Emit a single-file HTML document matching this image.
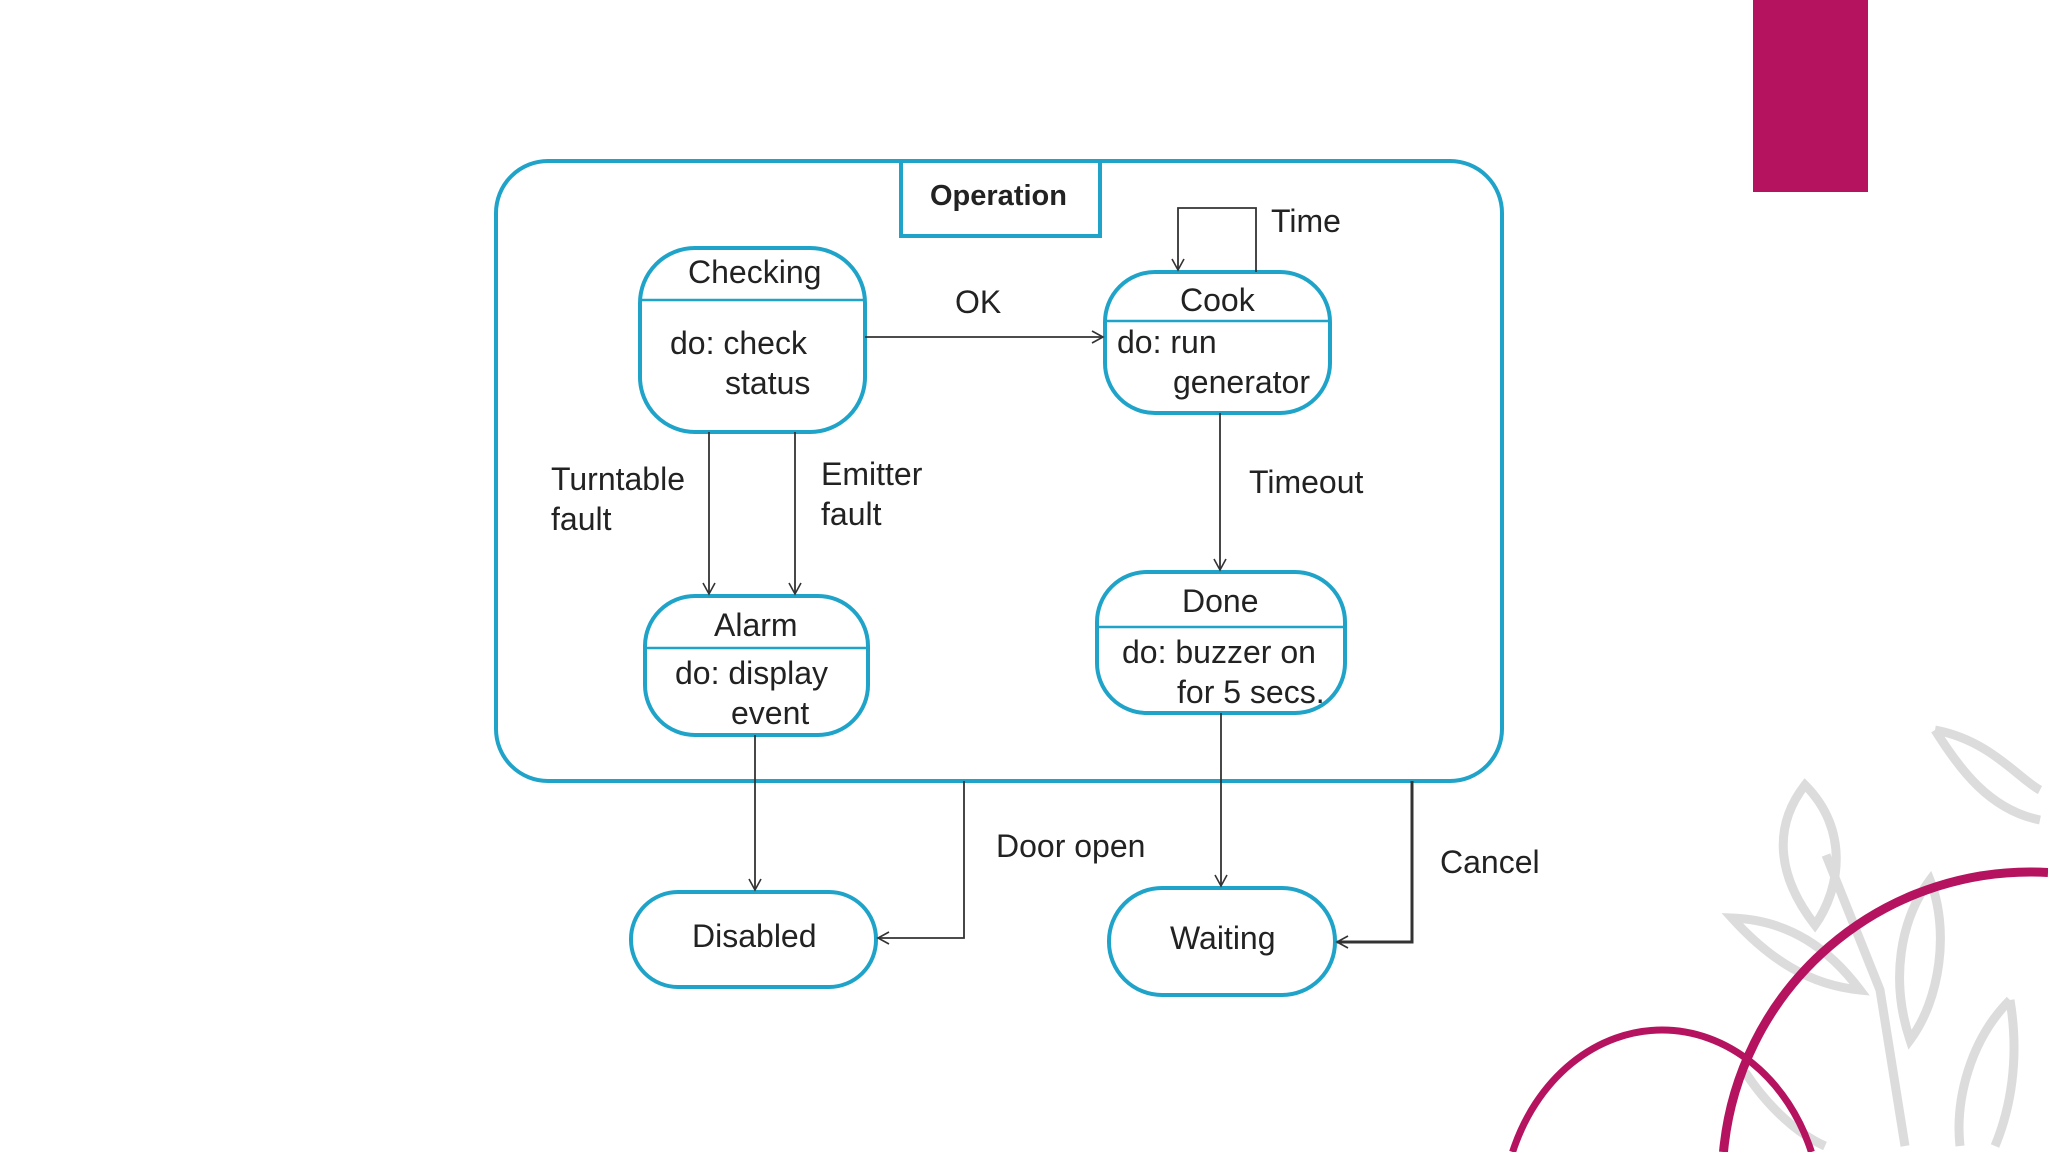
<!DOCTYPE html>
<html><head><meta charset="utf-8"><style>
html,body{margin:0;padding:0;background:#fff;width:2048px;height:1152px;overflow:hidden}
svg{display:block}
svg text{font-family:"Liberation Sans Narrow","Liberation Sans",sans-serif;fill:#222;font-size:32px}
</style></head><body>
<svg width="2048" height="1152" viewBox="0 0 2048 1152" xmlns="http://www.w3.org/2000/svg">
<defs>
<marker id="a" markerWidth="14" markerHeight="14" refX="12" refY="7" orient="auto" markerUnits="userSpaceOnUse">
<path d="M1,1 L12,7 L1,13" fill="none" stroke="#333" stroke-width="1.6"/></marker>
</defs>
<rect x="1753" y="0" width="115" height="192" fill="#b5135f"/>
<g fill="none" stroke="#dcdcdc" stroke-width="9">
<path d="M1805,785 C1770,830 1780,880 1815,925 C1840,890 1850,830 1805,785 Z"/>
<path d="M1732,918 C1770,960 1810,985 1860,990 C1830,950 1790,920 1732,918 Z"/>
<path d="M1935,730 C1960,770 1990,810 2040,820 M1935,730 C1990,740 2020,780 2040,790"/>
<path d="M1826,855 L1880,990 L1905,1146"/>
<path d="M1930,880 C1900,920 1890,980 1910,1040 C1940,1000 1950,930 1930,880 Z"/>
<path d="M2010,1000 C1970,1040 1955,1100 1960,1146 M2010,1000 C2020,1060 2010,1110 1995,1146"/>
<path d="M1745,1072 C1770,1110 1800,1135 1825,1146"/>
</g>
<path d="M1723.5,1152 A308,308 0 0 1 2048,872.5" fill="none" stroke="#b5135f" stroke-width="9"/>
<path d="M1512.6,1152 A160,190 0 0 1 1811.4,1152" fill="none" stroke="#b5135f" stroke-width="7"/>

<g fill="none" stroke="#1fa3c8" stroke-width="4">
<rect x="496" y="161" width="1006" height="620" rx="52"/>
<rect x="901" y="161" width="199" height="75" fill="#fff"/>
<rect x="640" y="248" width="225" height="184" rx="55"/>
<line x1="640" y1="300" x2="865" y2="300" stroke-width="2.5"/>
<rect x="1105" y="272" width="225" height="141" rx="50"/>
<line x1="1105" y1="321" x2="1330" y2="321" stroke-width="2.5"/>
<rect x="645" y="596" width="223" height="139" rx="50"/>
<line x1="645" y1="648" x2="868" y2="648" stroke-width="2.5"/>
<rect x="1097" y="572" width="248" height="141" rx="50"/>
<line x1="1097" y1="627" x2="1345" y2="627" stroke-width="2.5"/>
<rect x="631" y="892" width="245" height="95" rx="47"/>
<rect x="1109" y="888" width="226" height="107" rx="53"/>
</g>

<g fill="none" stroke="#333" stroke-width="1.8">
<line x1="865" y1="337" x2="1103" y2="337" marker-end="url(#a)"/>
<polyline points="1256,272 1256,208 1178,208 1178,270" marker-end="url(#a)"/>
<line x1="709" y1="432" x2="709" y2="594" marker-end="url(#a)"/>
<line x1="795" y1="432" x2="795" y2="594" marker-end="url(#a)"/>
<line x1="1220" y1="413" x2="1220" y2="570" marker-end="url(#a)"/>
<line x1="755" y1="735" x2="755" y2="890" marker-end="url(#a)"/>
<polyline points="964,781 964,938 878,938" marker-end="url(#a)"/>
<line x1="1221" y1="713" x2="1221" y2="886" marker-end="url(#a)"/>
<polyline points="1412,781 1412,942 1337,942" stroke-width="3" marker-end="url(#a)"/>
</g>

<text x="930" y="205" font-weight="bold" style="font-family:'Liberation Sans',sans-serif;font-size:29px">Operation</text>
<text x="688" y="283">Checking</text>
<text x="670" y="354">do: check</text>
<text x="725" y="394">status</text>
<text x="1180" y="311">Cook</text>
<text x="1117" y="353">do: run</text>
<text x="1173" y="393">generator</text>
<text x="714" y="636">Alarm</text>
<text x="675" y="684">do: display</text>
<text x="731" y="724">event</text>
<text x="1182" y="612">Done</text>
<text x="1122" y="663">do: buzzer on</text>
<text x="1177" y="703">for 5 secs.</text>
<text x="692" y="947">Disabled</text>
<text x="1170" y="949">Waiting</text>
<text x="955" y="313">OK</text>
<text x="1271" y="232">Time</text>
<text x="551" y="490">Turntable</text>
<text x="551" y="530">fault</text>
<text x="821" y="485">Emitter</text>
<text x="821" y="525">fault</text>
<text x="1249" y="493">Timeout</text>
<text x="996" y="857">Door open</text>
<text x="1440" y="873">Cancel</text>
</svg>
</body></html>
